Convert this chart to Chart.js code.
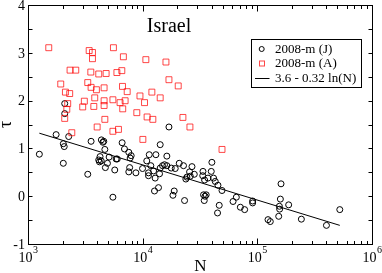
<!DOCTYPE html>
<html><head><meta charset="utf-8">
<script src="https://cdn.jsdelivr.net/npm/chart.js@4/dist/chart.umd.min.js"></script>
<style>html,body{margin:0;padding:0;background:#fff}#c{display:block}</style>
</head><body>
<canvas id="c" width="382" height="273"></canvas>
<script>
// 2008-m (J) : black circles
const jN = [1256,1759,2032,2070,2264,2032,3320,3550,4365,4580,4500,4680,4250,4350,4140,4200,4730,4930,5100,5870,6000,5710,6620,6940,7570,7780,7700,7570,5500,
  2090,2090,16950,
  7940,8730,9970,11410,13040,14220,10860,11780,11240,11240,12450,12850,14030,14220,14900,15500,16250,17750,19230,16250,20840,22710,26920,25650,26000,24300,28200,23800,13740,12680,18840,18370,23190,33570,33400,34670,37110,39640,40150,41520,42950,45360,49200,33960,35000,35800,34440,46530,44980,
  65600,71100,77500,61400,91000,91000,123900,129700,160900,158800,155700,156500,153600,187600,242100,400600,523700];
const jTau = [0.88,1.29,1.10,1.04,1.25,0.69,0.46,1.15,1.18,1.15,1.13,0.98,0.83,0.74,0.76,0.72,0.60,0.69,0.82,0.78,0.78,0.55,1.12,0.99,0.92,0.80,0.60,0.51,-0.02,
  1.94,1.73,1.45,
  0.85,0.49,0.58,0.87,0.87,1.08,0.74,0.64,0.49,0.43,0.53,0.38,0.47,0.59,0.64,0.66,0.64,0.59,0.58,0.84,0.69,0.64,0.62,0.51,0.42,0.40,0.46,0.36,0.18,0.11,0.11,0.02,-0.09,0.52,0.43,0.34,0.38,0.52,0.71,0.38,0.31,0.23,0.12,0.03,0.00,0.03,-0.09,-0.19,-0.35,
  -0.02,-0.23,-0.28,-0.11,-0.10,-0.14,-0.49,-0.53,0.26,-0.06,-0.21,-0.27,-0.42,-0.18,-0.48,-0.61,-0.28];
// 2008-m (A) : red squares
const aN = [1517,3415,3650,3650,5560,6790,2327,2610,3530,4140,4800,5960,6580,1930,3320,3550,3950,4610,6670,2120,2310,2220,3100,3820,4610,5500,6350,7030,3000,3750,4610,6700,2180,2090,4680,2410,4010,5500,6150,
  10660,15960,16950,20420,7330,12030,9470,14220,10380,8890,10930,12270,22440,25830,10040,49200];
const aTau = [3.11,3.05,3.01,2.88,3.11,2.92,2.64,2.64,2.60,2.56,2.57,2.59,2.63,2.35,2.38,2.28,2.23,2.27,2.30,2.18,2.15,1.94,1.99,2.06,2.00,2.02,1.96,2.00,1.87,1.88,1.90,1.83,1.82,1.63,1.61,1.33,1.45,1.36,1.40,
  2.86,2.81,2.44,2.31,2.19,2.18,2.10,2.06,1.96,1.75,1.66,1.61,1.65,1.45,1.19,0.98];
// fit line 3.6 - 0.32 ln(N), end points
const fitN = [1256, 523700];
const fitTau = [1.32, -0.61];
const xExponents = ['3','4','5','6'];
const yTickLabels = ['-1','0','1','2','3','4'];
const legendLabels = ['2008-m (J)','2008-m (A)','3.6 - 0.32 ln(N)'];

const SERIF = '"Liberation Serif","DejaVu Serif",serif';
const RED = 'rgba(255,0,0,0.72)';
const toPts = (xs, ys) => xs.map((v, i) => ({x: v, y: ys[i]}));

const deco = {
  id: 'deco',
  afterDraw(chart) {
    const ctx = chart.ctx, a = chart.chartArea;
    const xs = chart.scales.x, ys = chart.scales.y;
    const L = Math.round(a.left) + 0.5, R = Math.round(a.right) + 0.5;
    const T = Math.round(a.top) + 0.5, B = Math.round(a.bottom) + 0.5;
    ctx.save();
    ctx.strokeStyle = '#000';
    ctx.lineWidth = 1;
    ctx.strokeRect(L, T, R - L, B - T);
    ctx.beginPath();
    // y ticks every 0.5
    for (let v = -1; v <= 4.001; v += 0.5) {
      const py = Math.round(ys.getPixelForValue(v)) + 0.5;
      ctx.moveTo(L, py); ctx.lineTo(L + 4, py);
      ctx.moveTo(R, py); ctx.lineTo(R - 4, py);
    }
    // x log ticks
    for (let k = 3; k <= 5; k++) {
      for (let m = 1; m <= 9; m++) {
        const px = Math.round(xs.getPixelForValue(m * Math.pow(10, k))) + 0.5;
        const len = m === 1 ? 6 : 3.5;
        ctx.moveTo(px, B); ctx.lineTo(px, B - len);
        ctx.moveTo(px, T); ctx.lineTo(px, T + len);
      }
    }
    ctx.stroke();
    // y tick labels
    ctx.fillStyle = '#000';
    ctx.font = '14px ' + SERIF;
    ctx.textAlign = 'right';
    ctx.textBaseline = 'middle';
    yTickLabels.forEach(t => {
      ctx.fillText(t, a.left - 3, ys.getPixelForValue(parseFloat(t)) + 1);
    });
    // x tick labels 10^k
    xExponents.forEach(e => {
      const px = xs.getPixelForValue(Math.pow(10, parseInt(e)));
      ctx.font = '14px ' + SERIF;
      const w10 = ctx.measureText('10').width;
      ctx.font = '10px ' + SERIF;
      const we = ctx.measureText(e).width;
      const x0 = px - (w10 + we) / 2;
      ctx.textAlign = 'left';
      ctx.textBaseline = 'alphabetic';
      ctx.font = '14px ' + SERIF;
      ctx.fillText('10', x0, 262);
      ctx.font = '10px ' + SERIF;
      ctx.fillText(e, x0 + w10 + 0.5, 253);
    });
    // axis titles
    ctx.font = '17px ' + SERIF;
    ctx.textAlign = 'center';
    ctx.fillText('N', (a.left + a.right) / 2 + 0.5, 271);
    ctx.save();
    ctx.translate(6.5, 124.5);
    ctx.rotate(-Math.PI / 2);
    ctx.font = '18px ' + SERIF;
    ctx.textBaseline = 'middle';
    ctx.fillText('τ', 0, 0);
    ctx.restore();
    // title
    ctx.font = '20px ' + SERIF;
    ctx.textAlign = 'center';
    ctx.textBaseline = 'alphabetic';
    ctx.fillText('Israel', 169, 31.5);
    // legend
    ctx.strokeRect(251.5, 39.5, 110, 48);
    ctx.font = '13px ' + SERIF;
    ctx.textAlign = 'left';
    ctx.textBaseline = 'middle';
    const rows = [49, 63.5, 78];
    legendLabels.forEach((t, i) => ctx.fillText(t, 275, rows[i] + 0.5));
    ctx.beginPath();
    ctx.arc(261.7, rows[0], 2.5, 0, Math.PI * 2);
    ctx.strokeStyle = '#000';
    ctx.stroke();
    ctx.strokeStyle = RED;
    ctx.strokeRect(259.5, rows[1] - 2.5, 5, 5);
    ctx.strokeStyle = '#000';
    ctx.beginPath();
    ctx.moveTo(255, rows[2] + 0.5); ctx.lineTo(269.5, rows[2] + 0.5);
    ctx.stroke();
    ctx.restore();
  }
};

new Chart(document.getElementById('c'), {
  type: 'scatter',
  data: {
    datasets: [
      { label: legendLabels[2], data: toPts(fitN, fitTau), showLine: true, pointRadius: 0,
        borderColor: '#000', borderWidth: 1, backgroundColor: 'transparent' },
      { label: legendLabels[1], data: toPts(aN, aTau), pointStyle: 'rect', pointRadius: 4.2,
        borderColor: RED, borderWidth: 1, backgroundColor: 'transparent' },
      { label: legendLabels[0], data: toPts(jN, jTau), pointStyle: 'circle', pointRadius: 3,
        borderColor: '#000', borderWidth: 1, backgroundColor: 'transparent' }
    ]
  },
  options: {
    responsive: false, animation: false, devicePixelRatio: 1,
    layout: { padding: { left: 28, top: 5, right: 10, bottom: 29 } },
    plugins: { legend: { display: false }, tooltip: { enabled: false }, title: { display: false } },
    scales: {
      x: { type: 'logarithmic', min: 1000, max: 1000000, display: false },
      y: { type: 'linear', min: -1, max: 4, display: false }
    }
  },
  plugins: [deco]
});
</script>
</body></html>
